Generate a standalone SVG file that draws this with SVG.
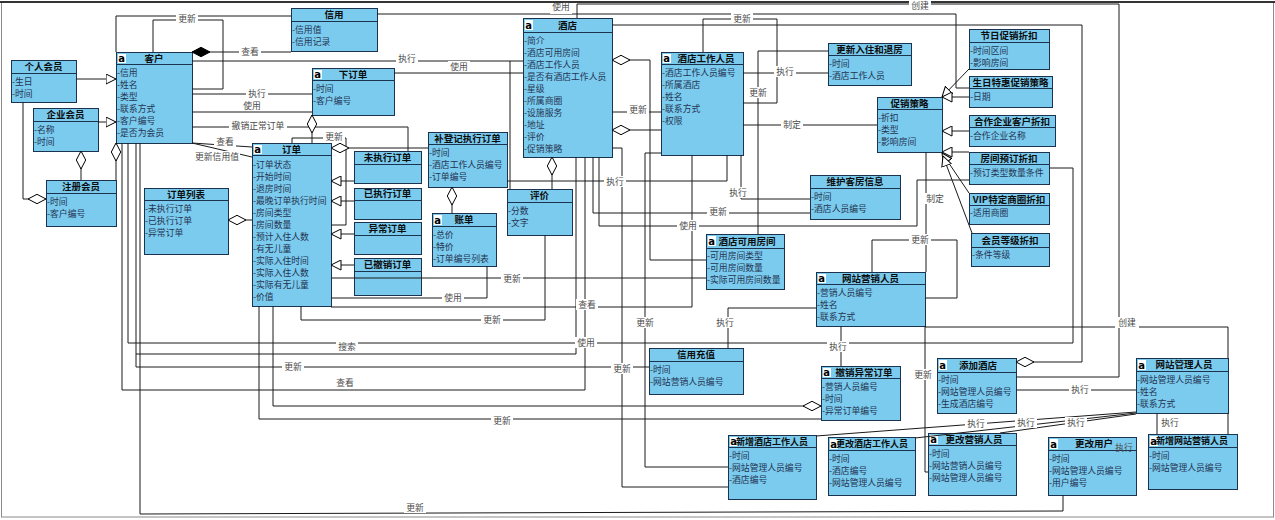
<svg xmlns="http://www.w3.org/2000/svg" width="1275" height="520" viewBox="0 0 1275 520">
<style>
.b{fill:#7BCBEF;stroke:#1C3350;stroke-width:1}
.d{stroke:#1C3350;stroke-width:1}
.hd{font-family:"Noto Sans CJK SC","Noto Sans",sans-serif;font-size:9.5px;font-weight:bold;fill:#0d0d0d;text-anchor:middle}
.hs{font-family:"Noto Sans CJK SC","Noto Sans",sans-serif;font-size:9px;font-weight:bold;fill:#0d0d0d;text-anchor:start}
.at{font-family:"Noto Sans CJK SC","Noto Sans",sans-serif;font-size:8.8px;fill:#24344f}
.ic{fill:#fff}
.it{font-family:"DejaVu Sans",sans-serif;font-size:10px;font-weight:bold;fill:#000}
.cn{fill:none;stroke:#1a1a1a;stroke-width:1}
.lb{font-family:"Noto Sans CJK SC","Noto Sans",sans-serif;font-size:8.8px;fill:#4a4a4a;text-anchor:middle}
.lg{fill:#fff}
.gen{marker-end:url(#tri)}
</style>
<defs>
<marker id="tri" viewBox="0 0 11 11" refX="10.5" refY="5.5" markerWidth="11" markerHeight="11" markerUnits="userSpaceOnUse" orient="auto"><path d="M0.5,0.5 L10.5,5.5 L0.5,10.5 z" fill="#fff" stroke="#000" stroke-width="1"/></marker>
<marker id="diaS" viewBox="0 0 19 11" refX="0.5" refY="5.5" markerWidth="19" markerHeight="11" markerUnits="userSpaceOnUse" orient="auto"><path d="M0.5,5.5 L9.5,0.8 L18.5,5.5 L9.5,10.2 z" fill="#fff" stroke="#000" stroke-width="1"/></marker>
<marker id="diaE" viewBox="0 0 19 11" refX="18.5" refY="5.5" markerWidth="19" markerHeight="11" markerUnits="userSpaceOnUse" orient="auto"><path d="M0.5,5.5 L9.5,0.8 L18.5,5.5 L9.5,10.2 z" fill="#fff" stroke="#000" stroke-width="1"/></marker>
<marker id="fdia" viewBox="0 0 19 11" refX="0.5" refY="5.5" markerWidth="19" markerHeight="11" markerUnits="userSpaceOnUse" orient="auto"><path d="M0.5,5.5 L9.5,0.8 L18.5,5.5 L9.5,10.2 z" fill="#000" stroke="#000" stroke-width="1"/></marker>
</defs>
<rect x="0" y="0" width="1275" height="520" fill="#fff"/>
<rect x="1.5" y="2.5" width="1272" height="514.5" fill="none" stroke="#8a8a8a" stroke-width="1"/>
<line x1="0" y1="2" x2="1275" y2="2" stroke="#333" stroke-width="2"/>

<g id="nodes" shape-rendering="crispEdges">
<g id="n-gerenhuiyuan"><rect class="b" x="11" y="60" width="65" height="42"/><line class="d" x1="11" y1="73" x2="76" y2="73"/><text class="hd" x="43.5" y="70">个人会员</text><text class="at"><tspan x="12" y="85">-生日</tspan><tspan x="12" y="97">-时间</tspan></text></g>
<g id="n-qiyehuiyuan"><rect class="b" x="33" y="108" width="65" height="43"/><line class="d" x1="33" y1="121" x2="98" y2="121"/><text class="hd" x="65.5" y="118">企业会员</text><text class="at"><tspan x="34" y="133">-名称</tspan><tspan x="34" y="145">-时间</tspan></text></g>
<g id="n-zhucehuiyuan"><rect class="b" x="46" y="180" width="70" height="46"/><line class="d" x1="46" y1="193" x2="116" y2="193"/><text class="hd" x="81" y="190">注册会员</text><text class="at"><tspan x="47" y="205">-时间</tspan><tspan x="47" y="217">-客户编号</tspan></text></g>
<g id="n-kehu"><rect class="b" x="116" y="52" width="76" height="91"/><line class="d" x1="116" y1="64" x2="192" y2="64"/><rect class="ic" x="117.5" y="53.5" width="8" height="9.5"/><text class="it" x="118.3" y="62">a</text><text class="hd" x="154" y="61.5">客户</text><text class="at"><tspan x="117" y="76">-信用</tspan><tspan x="117" y="88">-姓名</tspan><tspan x="117" y="100">-类型</tspan><tspan x="117" y="112">-联系方式</tspan><tspan x="117" y="124">-客户编号</tspan><tspan x="117" y="136">-是否为会员</tspan></text></g>
<g id="n-xinyong"><rect class="b" x="291" y="8" width="86" height="43"/><line class="d" x1="291" y1="21" x2="377" y2="21"/><text class="hd" x="334" y="18">信用</text><text class="at"><tspan x="292" y="33">-信用值</tspan><tspan x="292" y="45">-信用记录</tspan></text></g>
<g id="n-xiadingdan"><rect class="b" x="312" y="68" width="82" height="47"/><line class="d" x1="312" y1="80" x2="394" y2="80"/><rect class="ic" x="313.5" y="69.5" width="8" height="9.5"/><text class="it" x="314.3" y="78">a</text><text class="hd" x="353" y="77.5">下订单</text><text class="at"><tspan x="313" y="92">-时间</tspan><tspan x="313" y="104">-客户编号</tspan></text></g>
<g id="n-jiudian"><rect class="b" x="523" y="18" width="89" height="139"/><line class="d" x1="523" y1="32" x2="612" y2="32"/><rect class="ic" x="524.5" y="19.5" width="8" height="10"/><text class="it" x="525.3" y="28.5">a</text><text class="hd" x="567.5" y="28.5">酒店</text><text class="at"><tspan x="524" y="44">-简介</tspan><tspan x="524" y="56">-酒店可用房间</tspan><tspan x="524" y="68">-酒店工作人员</tspan><tspan x="524" y="80">-是否有酒店工作人员</tspan><tspan x="524" y="92">-星级</tspan><tspan x="524" y="104">-所属商圈</tspan><tspan x="524" y="116">-设施服务</tspan><tspan x="524" y="128">-地址</tspan><tspan x="524" y="140">-评价</tspan><tspan x="524" y="152">-促销策略</tspan></text></g>
<g id="n-dingdan"><rect class="b" x="252" y="143" width="79" height="163"/><line class="d" x1="252" y1="155" x2="331" y2="155"/><rect class="ic" x="253.5" y="144.5" width="8" height="9.5"/><text class="it" x="254.3" y="153">a</text><text class="hd" x="291.5" y="152.5">订单</text><text class="at"><tspan x="253" y="167.5">-订单状态</tspan><tspan x="253" y="179.5">-开始时间</tspan><tspan x="253" y="191.5">-退房时间</tspan><tspan x="253" y="203.5">-最晚订单执行时间</tspan><tspan x="253" y="215.5">-房间类型</tspan><tspan x="253" y="227.5">-房间数量</tspan><tspan x="253" y="239.5">-预计入住人数</tspan><tspan x="253" y="251.5">-有无儿童</tspan><tspan x="253" y="263.5">-实际入住时间</tspan><tspan x="253" y="275.5">-实际入住人数</tspan><tspan x="253" y="287.5">-实际有无儿童</tspan><tspan x="253" y="299.5">-价值</tspan></text></g>
<g id="n-weizhixing"><rect class="b" x="354" y="151" width="67" height="32"/><line class="d" x1="354" y1="164" x2="421" y2="164"/><text class="hd" x="387.5" y="161">未执行订单</text></g>
<g id="n-yizhixing"><rect class="b" x="354" y="188" width="67" height="31"/><line class="d" x1="354" y1="200" x2="421" y2="200"/><text class="hd" x="387.5" y="197">已执行订单</text></g>
<g id="n-yichang"><rect class="b" x="354" y="222" width="67" height="32"/><line class="d" x1="354" y1="235" x2="421" y2="235"/><text class="hd" x="387.5" y="232">异常订单</text></g>
<g id="n-yichexiao"><rect class="b" x="354" y="258" width="67" height="37"/><line class="d" x1="354" y1="271" x2="421" y2="271"/><text class="hd" x="387.5" y="268">已撤销订单</text></g>
<g id="n-dingdanliebiao"><rect class="b" x="144" y="188" width="84" height="66"/><line class="d" x1="144" y1="200" x2="228" y2="200"/><text class="hd" x="186" y="197.5">订单列表</text><text class="at"><tspan x="145" y="212">-未执行订单</tspan><tspan x="145" y="224">-已执行订单</tspan><tspan x="145" y="236">-异常订单</tspan></text></g>
<g id="n-budengji"><rect class="b" x="428" y="132" width="79" height="55"/><line class="d" x1="428" y1="144" x2="507" y2="144"/><text class="hd" x="467.5" y="141.5">补登记执行订单</text><text class="at"><tspan x="429" y="156">-时间</tspan><tspan x="429" y="168">-酒店工作人员编号</tspan><tspan x="429" y="180">-订单编号</tspan></text></g>
<g id="n-zhangdan"><rect class="b" x="432" y="213" width="64" height="53"/><line class="d" x1="432" y1="226" x2="496" y2="226"/><rect class="ic" x="433.5" y="214.5" width="8" height="10"/><text class="it" x="434.3" y="223.5">a</text><text class="hd" x="464" y="223">账单</text><text class="at"><tspan x="433" y="238">-总价</tspan><tspan x="433" y="250">-特价</tspan><tspan x="433" y="262">-订单编号列表</tspan></text></g>
<g id="n-pingjia"><rect class="b" x="507" y="189" width="65" height="46"/><line class="d" x1="507" y1="202" x2="572" y2="202"/><text class="hd" x="539.5" y="199">评价</text><text class="at"><tspan x="508" y="214">-分数</tspan><tspan x="508" y="226">-文字</tspan></text></g>
<g id="n-jiudiangongzuorenyuan"><rect class="b" x="661" y="52" width="82" height="103"/><line class="d" x1="661" y1="64" x2="743" y2="64"/><rect class="ic" x="662.5" y="53.5" width="8" height="9.5"/><text class="it" x="663.3" y="62">a</text><text class="hd" x="706" y="61.5">酒店工作人员</text><text class="at"><tspan x="662" y="76">-酒店工作人员编号</tspan><tspan x="662" y="88">-所属酒店</tspan><tspan x="662" y="100">-姓名</tspan><tspan x="662" y="112">-联系方式</tspan><tspan x="662" y="124">-权限</tspan></text></g>
<g id="n-gengxinruzhu"><rect class="b" x="828" y="43" width="83" height="42"/><line class="d" x1="828" y1="55" x2="911" y2="55"/><text class="hd" x="869.5" y="52.5">更新入住和退房</text><text class="at"><tspan x="829" y="67">-时间</tspan><tspan x="829" y="79">-酒店工作人员</tspan></text></g>
<g id="n-cuxiaocelue"><rect class="b" x="877" y="97" width="65" height="55"/><line class="d" x1="877" y1="109" x2="942" y2="109"/><text class="hd" x="909.5" y="106.5">促销策略</text><text class="at"><tspan x="878" y="121">-折扣</tspan><tspan x="878" y="133">-类型</tspan><tspan x="878" y="145">-影响房间</tspan></text></g>
<g id="n-weihukefang"><rect class="b" x="810" y="175" width="90" height="44"/><line class="d" x1="810" y1="188" x2="900" y2="188"/><text class="hd" x="855" y="185">维护客房信息</text><text class="at"><tspan x="811" y="200">-时间</tspan><tspan x="811" y="212">-酒店人员编号</tspan></text></g>
<g id="n-kuyongfangjian"><rect class="b" x="706" y="234" width="78" height="55"/><line class="d" x1="706" y1="248" x2="784" y2="248"/><rect class="ic" x="707.5" y="235.5" width="8" height="10"/><text class="it" x="708.3" y="244.5">a</text><text class="hd" x="747" y="244.5">酒店可用房间</text><text class="at"><tspan x="707" y="259">-可用房间类型</tspan><tspan x="707" y="271">-可用房间数量</tspan><tspan x="707" y="283">-实际可用房间数量</tspan></text></g>
<g id="n-jieri"><rect class="b" x="969" y="29" width="80" height="40"/><line class="d" x1="969" y1="42" x2="1049" y2="42"/><text class="hd" x="1009" y="39">节日促销折扣</text><text class="at"><tspan x="970" y="54">-时间区间</tspan><tspan x="970" y="66">-影响房间</tspan></text></g>
<g id="n-shengri"><rect class="b" x="969" y="76" width="83" height="31"/><line class="d" x1="969" y1="88" x2="1052" y2="88"/><text class="hd" x="1010.5" y="85.5">生日特惠促销策略</text><text class="at"><tspan x="970" y="100">-日期</tspan></text></g>
<g id="n-hezuoqiye"><rect class="b" x="969" y="115" width="86" height="31"/><line class="d" x1="969" y1="127" x2="1055" y2="127"/><text class="hd" x="1012" y="124.5">合作企业客户折扣</text><text class="at"><tspan x="970" y="139">-合作企业名称</tspan></text></g>
<g id="n-fangjianyuding"><rect class="b" x="969" y="152" width="80" height="32"/><line class="d" x1="969" y1="164" x2="1049" y2="164"/><text class="hd" x="1009" y="161.5">房间预订折扣</text><text class="at"><tspan x="970" y="176">-预订类型数量条件</tspan></text></g>
<g id="n-vip"><rect class="b" x="969" y="193" width="80" height="31"/><line class="d" x1="969" y1="205" x2="1049" y2="205"/><text class="hd" x="1009" y="202.5">VIP特定商圈折扣</text><text class="at"><tspan x="970" y="216">-适用商圈</tspan></text></g>
<g id="n-huiyuandengji"><rect class="b" x="971" y="233" width="78" height="33"/><line class="d" x1="971" y1="247" x2="1049" y2="247"/><text class="hd" x="1010" y="243.5">会员等级折扣</text><text class="at"><tspan x="972" y="258">-条件等级</tspan></text></g>
<g id="n-yingxiaorenyuan"><rect class="b" x="816" y="272" width="109" height="54"/><line class="d" x1="816" y1="284" x2="925" y2="284"/><rect class="ic" x="817.5" y="273.5" width="8" height="9.5"/><text class="it" x="818.3" y="282">a</text><text class="hd" x="870.5" y="281.5">网站营销人员</text><text class="at"><tspan x="817" y="296">-营销人员编号</tspan><tspan x="817" y="308">-姓名</tspan><tspan x="817" y="320">-联系方式</tspan></text></g>
<g id="n-xinyongchongzhi"><rect class="b" x="649" y="348" width="94" height="46"/><line class="d" x1="649" y1="361" x2="743" y2="361"/><text class="hd" x="696" y="358">信用充值</text><text class="at"><tspan x="650" y="373">-时间</tspan><tspan x="650" y="385">-网站营销人员编号</tspan></text></g>
<g id="n-chexiaoyichang"><rect class="b" x="821" y="366" width="79" height="54"/><line class="d" x1="821" y1="378" x2="900" y2="378"/><rect class="ic" x="822.5" y="367.5" width="8" height="9.5"/><text class="it" x="823.3" y="376">a</text><text class="hd" x="864" y="375.5">撤销异常订单</text><text class="at"><tspan x="822" y="390">-营销人员编号</tspan><tspan x="822" y="402">-时间</tspan><tspan x="822" y="414">-异常订单编号</tspan></text></g>
<g id="n-xinzengjiudianrenyuan"><rect class="b" x="728" y="435" width="88" height="64"/><line class="d" x1="728" y1="447" x2="816" y2="447"/><rect class="ic" x="729.5" y="436.5" width="8" height="9.5"/><text class="it" x="730.3" y="445">a</text><text class="hs" x="736" y="444.5">新增酒店工作人员</text><text class="at"><tspan x="729" y="459">-时间</tspan><tspan x="729" y="471">-网站管理人员编号</tspan><tspan x="729" y="483">-酒店编号</tspan></text></g>
<g id="n-genggaijiudianrenyuan"><rect class="b" x="828" y="437" width="87" height="58"/><line class="d" x1="828" y1="450" x2="915" y2="450"/><rect class="ic" x="829.5" y="438.5" width="8" height="10"/><text class="it" x="830.3" y="447.5">a</text><text class="hs" x="836" y="447">更改酒店工作人员</text><text class="at"><tspan x="829" y="462">-时间</tspan><tspan x="829" y="474">-酒店编号</tspan><tspan x="829" y="486">-网站管理人员编号</tspan></text></g>
<g id="n-genggaiyingxiao"><rect class="b" x="928" y="433" width="88" height="62"/><line class="d" x1="928" y1="445" x2="1016" y2="445"/><rect class="ic" x="929.5" y="434.5" width="8" height="9.5"/><text class="it" x="930.3" y="443">a</text><text class="hd" x="974" y="442.5">更改营销人员</text><text class="at"><tspan x="929" y="457">-时间</tspan><tspan x="929" y="469">-网站营销人员编号</tspan><tspan x="929" y="481">-网站管理人员编号</tspan></text></g>
<g id="n-tianjiajiudian"><rect class="b" x="937" y="358" width="79" height="55"/><line class="d" x1="937" y1="372" x2="1016" y2="372"/><rect class="ic" x="938.5" y="359.5" width="8" height="10"/><text class="it" x="939.3" y="368.5">a</text><text class="hd" x="978" y="368.5">添加酒店</text><text class="at"><tspan x="938" y="383">-时间</tspan><tspan x="938" y="395">-网站管理人员编号</tspan><tspan x="938" y="407">-生成酒店编号</tspan></text></g>
<g id="n-genggaiyonghu"><rect class="b" x="1048" y="437" width="88" height="58"/><line class="d" x1="1048" y1="450" x2="1136" y2="450"/><rect class="ic" x="1049.5" y="438.5" width="8" height="10"/><text class="it" x="1050.3" y="447.5">a</text><text class="hd" x="1094" y="447">更改用户</text><text class="at"><tspan x="1049" y="462">-时间</tspan><tspan x="1049" y="474">-网站管理人员编号</tspan><tspan x="1049" y="486">-用户编号</tspan></text></g>
<g id="n-guanlirenyuan"><rect class="b" x="1136" y="358" width="92" height="55"/><line class="d" x1="1136" y1="371" x2="1228" y2="371"/><rect class="ic" x="1137.5" y="359.5" width="8" height="10"/><text class="it" x="1138.3" y="368.5">a</text><text class="hd" x="1184" y="368">网站管理人员</text><text class="at"><tspan x="1137" y="383">-网站管理人员编号</tspan><tspan x="1137" y="395">-姓名</tspan><tspan x="1137" y="407">-联系方式</tspan></text></g>
<g id="n-xinzengyingxiao"><rect class="b" x="1148" y="434" width="89" height="55"/><line class="d" x1="1148" y1="447" x2="1237" y2="447"/><rect class="ic" x="1149.5" y="435.5" width="8" height="10"/><text class="it" x="1150.3" y="444.5">a</text><text class="hs" x="1156" y="444">新增网站营销人员</text><text class="at"><tspan x="1149" y="459">-时间</tspan><tspan x="1149" y="471">-网站管理人员编号</tspan></text></g>
</g>

<g id="connectors" class="cn">
<path d="M76,79 H116" class="gen"/>
<path d="M98,122 H116" class="gen"/>
<path d="M81,151 V180" marker-start="url(#diaS)"/>
<path d="M116,143 V180" marker-start="url(#diaS)"/>
<path d="M23,102 V199 H46" marker-end="url(#diaE)"/>
<path d="M116,52 V16 H291"/>
<path d="M153,52 V20 H223 V89 H192"/>
<path d="M192,52 H291" marker-start="url(#fdia)"/>
<path d="M192,61 H510 V189 M510,61 H523"/>
<path d="M394,73 H523"/>
<path d="M192,94 H312"/>
<path d="M192,112 H312"/>
<path d="M192,127 H408 V151"/>
<path d="M312,115 V143" marker-start="url(#diaS)"/>
<path d="M292,143 V138 H346 V225 H331"/>
<path d="M331,148 H428" marker-start="url(#diaS)"/>
<path d="M354,181 H331" class="gen"/>
<path d="M354,201 H331" class="gen"/>
<path d="M354,234 H331" class="gen"/>
<path d="M354,265 H331" class="gen"/>
<path d="M228,220 H252" marker-start="url(#diaS)"/>
<path d="M192,143 L252,147"/>
<path d="M192,143 L252,157"/>
<path d="M122,143 V390 H585 V157"/>
<path d="M128,143 V343 H1073 V168 H1049"/>
<path d="M136,143 V367 H649"/>
<path d="M136,354 H576 V157"/>
<path d="M140,143 V514 L1063,511 V495"/>
<path d="M259,306 V419 H821"/>
<path d="M273,306 V406 H821" marker-end="url(#diaE)"/>
<path d="M301,306 V320 H545 V235"/>
<path d="M331,278 H706"/>
<path d="M331,298 H487 V266"/>
<path d="M331,307 H692 V155"/>
<path d="M452,187 V213" marker-start="url(#diaS)"/>
<path d="M552,157 V189" marker-start="url(#diaS)"/>
<path d="M577,18 V4 H1119 V377 H1016"/>
<path d="M377,14 H956 V88 H969"/>
<path d="M612,25 H1082 V362 H1016" marker-end="url(#diaE)"/>
<path d="M703,52 V19 H777 V103 H743"/>
<path d="M612,60 H650 V260 H706" marker-start="url(#diaS)"/>
<path d="M612,112 H661"/>
<path d="M612,130 H661" marker-start="url(#diaS)"/>
<path d="M612,148 H622 V487 H728"/>
<path d="M661,153 H645 V467 H728"/>
<path d="M743,73 H828"/>
<path d="M828,51 H758 V234"/>
<path d="M743,125 H877"/>
<path d="M507,181 H727 V155"/>
<path d="M741,155 V199 H810"/>
<path d="M593,157 V213 H810"/>
<path d="M599,157 V226 H917 V180 H969"/>
<path d="M969,69 L942,97" class="gen"/>
<path d="M969,97 H942" class="gen"/>
<path d="M969,131 H942" class="gen"/>
<path d="M969,152 H942" class="gen"/>
<path d="M969,193 L942,153" class="gen"/>
<path d="M972,233 L943,156" class="gen"/>
<path d="M926,152 V272"/>
<path d="M872,272 V240 H957 V298 H925"/>
<path d="M816,308 H728 V348"/>
<path d="M841,326 V366"/>
<path d="M925,326 V472 H928"/>
<path d="M925,327 H1228 V358"/>
<path d="M1136,390 H1016"/>
<path d="M1136,412 L816,436"/>
<path d="M1136,413 L915,438"/>
<path d="M1136,414 L1000,433"/>
<path d="M1157,413 V434"/>
<path d="M1228,413 V434"/>
</g>

<g id="labels">
<rect class="lg" x="176" y="13" width="22" height="11"/><text class="lb" x="187" y="22">更新</text>
<rect class="lg" x="239" y="46" width="22" height="11"/><text class="lb" x="250" y="55">查看</text>
<rect class="lg" x="396" y="53" width="22" height="11"/><text class="lb" x="407" y="62">执行</text>
<rect class="lg" x="448" y="61" width="22" height="11"/><text class="lb" x="459" y="70">使用</text>
<rect class="lg" x="246" y="88" width="22" height="11"/><text class="lb" x="257" y="97">执行</text>
<rect class="lg" x="241" y="100" width="22" height="11"/><text class="lb" x="252" y="109">使用</text>
<rect class="lg" x="229" y="120" width="58" height="11"/><text class="lb" x="258" y="129">撤销正常订单</text>
<rect class="lg" x="214" y="136" width="22" height="11"/><text class="lb" x="225" y="145">查看</text>
<rect class="lg" x="194" y="151" width="46" height="11"/><text class="lb" x="217" y="160">更新信用值</text>
<rect class="lg" x="323" y="131" width="22" height="11"/><text class="lb" x="334" y="140">更新</text>
<rect class="lg" x="550" y="4" width="22" height="10"/><text class="lb" x="561" y="10">使用</text>
<rect class="lg" x="909" y="1" width="22" height="10"/><text class="lb" x="920" y="9">创建</text>
<rect class="lg" x="731" y="13" width="22" height="11"/><text class="lb" x="742" y="22">更新</text>
<rect class="lg" x="774" y="66" width="22" height="11"/><text class="lb" x="785" y="75">执行</text>
<rect class="lg" x="747" y="87" width="22" height="11"/><text class="lb" x="758" y="96">更新</text>
<rect class="lg" x="627" y="104" width="22" height="11"/><text class="lb" x="638" y="113">更新</text>
<rect class="lg" x="781" y="119" width="22" height="11"/><text class="lb" x="792" y="128">制定</text>
<rect class="lg" x="604" y="176" width="22" height="11"/><text class="lb" x="615" y="185">执行</text>
<rect class="lg" x="727" y="187" width="22" height="11"/><text class="lb" x="738" y="196">执行</text>
<rect class="lg" x="707" y="206" width="22" height="11"/><text class="lb" x="718" y="215">更新</text>
<rect class="lg" x="677" y="220" width="22" height="11"/><text class="lb" x="688" y="229">使用</text>
<rect class="lg" x="924" y="193" width="22" height="11"/><text class="lb" x="935" y="202">制定</text>
<rect class="lg" x="909" y="234" width="22" height="11"/><text class="lb" x="920" y="243">更新</text>
<rect class="lg" x="501" y="273" width="22" height="11"/><text class="lb" x="512" y="282">更新</text>
<rect class="lg" x="442" y="292" width="22" height="11"/><text class="lb" x="453" y="301">使用</text>
<rect class="lg" x="576" y="299" width="22" height="11"/><text class="lb" x="587" y="308">查看</text>
<rect class="lg" x="481" y="314" width="22" height="11"/><text class="lb" x="492" y="323">更新</text>
<rect class="lg" x="634" y="317" width="22" height="11"/><text class="lb" x="645" y="326">更新</text>
<rect class="lg" x="714" y="317" width="22" height="11"/><text class="lb" x="725" y="326">执行</text>
<rect class="lg" x="1115" y="317" width="24" height="11"/><text class="lb" x="1127" y="326">创建</text>
<rect class="lg" x="336" y="341" width="22" height="11"/><text class="lb" x="347" y="350">搜索</text>
<rect class="lg" x="575" y="337" width="22" height="11"/><text class="lb" x="586" y="346">使用</text>
<rect class="lg" x="827" y="341" width="22" height="11"/><text class="lb" x="838" y="350">执行</text>
<rect class="lg" x="282" y="361" width="22" height="11"/><text class="lb" x="293" y="370">更新</text>
<rect class="lg" x="611" y="363" width="22" height="11"/><text class="lb" x="622" y="372">更新</text>
<rect class="lg" x="912" y="369" width="22" height="11"/><text class="lb" x="923" y="378">更新</text>
<rect class="lg" x="334" y="377" width="22" height="11"/><text class="lb" x="345" y="386">查看</text>
<rect class="lg" x="1069" y="384" width="22" height="11"/><text class="lb" x="1080" y="393">执行</text>
<rect class="lg" x="491" y="415" width="22" height="11"/><text class="lb" x="502" y="424">更新</text>
<rect class="lg" x="965" y="418" width="22" height="11"/><text class="lb" x="976" y="427">执行</text>
<rect class="lg" x="1015" y="417" width="22" height="11"/><text class="lb" x="1026" y="426">执行</text>
<rect class="lg" x="1065" y="417" width="22" height="11"/><text class="lb" x="1076" y="426">执行</text>
<rect class="lg" x="1159" y="417" width="22" height="11"/><text class="lb" x="1170" y="426">执行</text>
<text class="lb" x="1124" y="451">执行</text>
<rect class="lg" x="404" y="502" width="22" height="11"/><text class="lb" x="415" y="511">更新</text>
</g>
</svg>
